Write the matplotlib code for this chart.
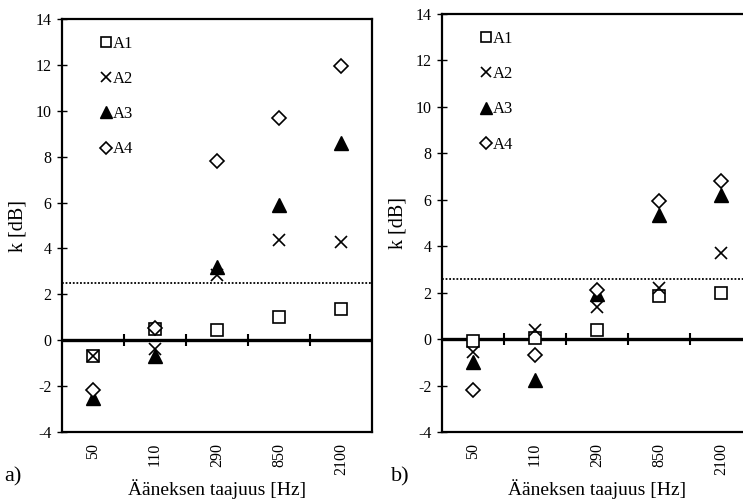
import matplotlib
matplotlib.use("Agg")
import matplotlib.pyplot as plt
import numpy as np

plt.rcParams['font.family'] = ['Liberation Serif', 'DejaVu Serif']

categories = ["50", "110", "290", "850", "2100"]
series = ["A1", "A2", "A3", "A4"]

# panel a)
a_A1 = [-0.7, 0.5, 0.45, 1.0, 1.35]
a_A2 = [-0.7, -0.4, 2.85, 4.35, 4.3]
a_A3 = [-2.5, -0.7, 3.2, 5.9, 8.6]
a_A4 = [-2.15, 0.55, 7.8, 9.7, 11.95]
a_limit = 2.5

# panel b)
b_A1 = [-0.1, 0.05, 0.4, 1.85, 2.0]
b_A2 = [-0.55, 0.4, 1.4, 2.2, 3.7]
b_A3 = [-1.0, -1.75, 1.95, 5.35, 6.2]
b_A4 = [-2.2, -0.7, 2.1, 5.95, 6.8]
b_limit = 2.6

yticks = [-4, -2, 0, 2, 4, 6, 8, 10, 12, 14]
xlabel = "Ääneksen taajuus [Hz]"
ylabel = "k [dB]"

styles = {
    "A1": dict(marker='s', mfc='white', mec='black', ms=9, mew=1.2),
    "A2": dict(marker='x', mfc='none', mec='black', ms=9, mew=1.2),
    "A3": dict(marker='^', mfc='black', mec='black', ms=10, mew=1.0),
    "A4": dict(marker='D', mfc='white', mec='black', ms=7, mew=1.2),
}

fig = plt.figure(figsize=(7.43, 5.0), dpi=100)
axA = fig.add_axes([62/743, 68/500, 310/743, 413/500])
axB = fig.add_axes([442/743, 68/500, 310/743, 418/500])

def draw(ax, data, limit):
    x = np.arange(1, len(categories) + 1)
    for name, vals in zip(series, data):
        ax.plot(x, vals, linestyle='none', label=name, **styles[name], zorder=4)
    ax.axhline(0, color='black', lw=2.4, zorder=3)
    ax.axhline(limit, color='black', lw=1.3, linestyle=(0, (1, 1)), zorder=2)
    bx = np.arange(1.5, len(categories))
    ax.plot(bx, np.zeros_like(bx), linestyle='none', marker='|', ms=9, mew=1.5,
            color='black', zorder=3)
    ax.set_xlim(0.5, len(categories) + 0.5)
    ax.set_ylim(-4, 14)
    ax.set_yticks(yticks)
    ax.set_yticklabels([str(t) for t in yticks], fontsize=11.5)
    ax.set_xticks(x)
    ax.set_xticklabels(categories, rotation=90, fontsize=11.5)
    ax.tick_params(axis='x', length=0, pad=8)
    ax.tick_params(axis='y', direction='inout', length=7, width=1.0, pad=4)
    for s in ax.spines.values():
        s.set_linewidth(1.6)
    ax.set_xlabel(xlabel, fontsize=14, labelpad=3)
    ax.set_ylabel(ylabel, fontsize=14.5, labelpad=6)
    ax.legend(loc='upper left', bbox_to_anchor=(0.104, 0.975), frameon=False,
              fontsize=12, handlelength=0.6, handletextpad=0.1, markerscale=0.85,
              labelspacing=1.15, borderaxespad=0.0)
    return ax

draw(axA, [a_A1, a_A2, a_A3, a_A4], a_limit)
draw(axB, [b_A1, b_A2, b_A3, b_A4], b_limit)

fig.text(4/743, 1 - 481/500, "a)", fontsize=16)
fig.text(391/743, 1 - 481/500, "b)", fontsize=16)

fig.savefig("out.png", dpi=100)
